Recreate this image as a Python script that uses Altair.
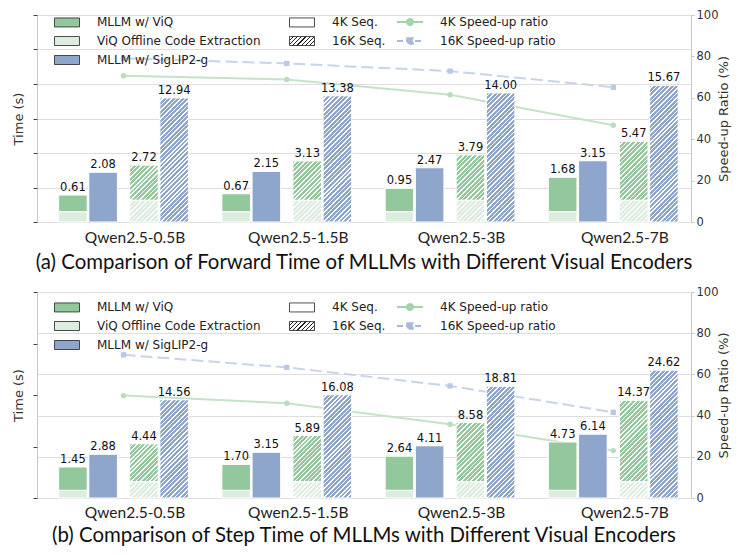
import json
import math
import altair as alt

# ---------------- data ----------------
models = ["Qwen2.5-0.5B", "Qwen2.5-1.5B", "Qwen2.5-3B", "Qwen2.5-7B"]

# (a) forward time (s)
fwd_viq_4k = [0.61, 0.67, 0.95, 1.68]
fwd_sig_4k = [2.08, 2.15, 2.47, 3.15]
fwd_viq_16k = [2.72, 3.13, 3.79, 5.47]
fwd_sig_16k = [12.94, 13.38, 14.00, 15.67]
fwd_code_4k = [0.09, 0.09, 0.09, 0.09]
fwd_code_16k = [0.40, 0.40, 0.40, 0.40]
fwd_speedup_4k = [70.7, 68.8, 61.5, 46.7]
fwd_speedup_16k = [79.0, 76.6, 72.9, 65.1]

# (b) step time (s)
step_viq_4k = [1.45, 1.70, 2.64, 4.73]
step_sig_4k = [2.88, 3.15, 4.11, 6.14]
step_viq_16k = [4.44, 5.89, 8.58, 14.37]
step_sig_16k = [14.56, 16.08, 18.81, 24.62]
step_code_4k = [0.09, 0.09, 0.09, 0.09]
step_code_16k = [0.40, 0.40, 0.40, 0.40]
step_speedup_4k = [49.7, 46.0, 35.8, 23.0]
step_speedup_16k = [69.5, 63.4, 54.4, 41.6]

time_ticks_a = [0, 1, 4, 9, 16, 25, 36]
time_ticks_b = [0, 4, 16, 36, 64]
ratio_ticks = [0, 20, 40, 60, 80, 100]

bar_legend_items = ["MLLM w/ ViQ", "ViQ Offline Code Extraction", "MLLM w/ SigLIP2-g", "4K Seq.", "16K Seq."]
ratio_legend_items = ["4K Speed-up ratio", "16K Speed-up ratio"]
captions = [
    "(a) Comparison of Forward Time of MLLMs with Different Visual Encoders",
    "(b) Comparison of Step Time of MLLMs with Different Visual Encoders",
]

# ---------------- styling ----------------
W = 654
X_DOMAIN = [-0.53, 3.476]
OFFSETS = [-0.31, -0.125, 0.125, 0.31]
BAR_W = 0.175
GREEN = "#93c79c"
LIGHT = "#dcede0"
BLUE = "#8ea6cb"
LINE_G = "#c4e3c9"
LINE_B = "#c7d4ea"
LEG_G = "#a3d3ab"
LEG_B = "#a7b9dc"
GRID = "#dedede"
FRAME = "#c8c8c8"

RECT_PATH = "M-2.5,-0.9H2.5V0.9H-2.5Z"
CIRCLE_LINE = "M-2.6,0H2.6M0.6,0A0.6,0.6,0,1,1,-0.6,0A0.6,0.6,0,1,1,0.6,0Z"
SQUARE_LINE = "M-2.6,0H2.6M-0.55,-0.55H0.55V0.55H-0.55Z"


def hatch(base, w, h, period=4.5, line=1.6, color="white"):
    """Diagonal '/' hatch as a striped linear gradient in bbox units."""
    w = max(w, 1.0)
    h = max(h, 1.0)
    L = w + h
    n = max(1, int(round(L / period)))
    a = L / (w * w + h * h)
    f = min(0.9, line / period)
    stops = []
    for k in range(n):
        s = k / n
        m = (k + 1 - f) / n
        e = (k + 1) / n
        stops += [
            {"offset": round(s, 5), "color": base},
            {"offset": round(m, 5), "color": base},
            {"offset": round(m, 5), "color": color},
            {"offset": round(e, 5), "color": color},
        ]
    return {"gradient": "linear", "x1": 0, "y1": 0, "x2": round(w * a, 5), "y2": round(h * a, 5), "stops": stops}


def panel(viq4, sig4, viq16, sig16, code4, code16, sp4, sp16, ymax, yticks,
          height, caption, grid_left, title_offset, label_pad, legend_y):
    px_x = W / (X_DOMAIN[1] - X_DOMAIN[0])
    bw_px = BAR_W * px_x

    def hpx(a, b):
        return (math.sqrt(b) - math.sqrt(a)) / math.sqrt(ymax) * height

    records, labels, r4, r16 = [], [], [], []
    for i in range(len(models)):
        segs = [
            (0, 0, code4[i], LIGHT, False),
            (0, code4[i], viq4[i], GREEN, False),
            (1, 0, sig4[i], BLUE, False),
            (2, 0, code16[i], LIGHT, True),
            (2, code16[i], viq16[i], GREEN, True),
            (3, 0, sig16[i], BLUE, True),
        ]
        for k, y0, y1, col, hatched in segs:
            c = i + OFFSETS[k]
            paint = hatch(col, bw_px, hpx(y0, y1)) if hatched else col
            records.append({"x0": c - BAR_W / 2, "x1": c + BAR_W / 2, "y0": y0, "y1": y1, "paint": paint})
        for k, v in enumerate([viq4[i], sig4[i], viq16[i], sig16[i]]):
            labels.append({"xc": i + OFFSETS[k], "v": v})
        r4.append({"xc": i, "r": sp4[i]})
        r16.append({"xc": i, "r": sp16[i]})

    def xs():
        return alt.Scale(domain=X_DOMAIN, nice=False, zero=False)

    def ys():
        return alt.Scale(type="sqrt", domain=[0, ymax], nice=False, zero=True)

    def rs():
        return alt.Scale(domain=[0, 100], nice=False, zero=True)

    def x_axis():
        return alt.Axis(
            values=[0, 1, 2, 3], labelExpr=f"{json.dumps(models)}[round(datum.value)]",
            title=None, ticks=False, tickSize=0, domain=False, grid=False,
            labelFont="Lato", labelFontSize=15.5, labelColor="#222", labelPadding=label_pad,
            labelOffset=11,
        )

    left_axis = alt.Axis(
        orient="left", values=yticks, labels=False, ticks=True, tickSize=4,
        tickColor="#444", domain=False, grid=grid_left, gridColor=GRID,
        title="Time (s)", titleFont="DejaVu Sans", titleFontSize=13,
        titleFontWeight="normal", titleColor="#333", titlePadding=7,
    )
    right_axis = alt.Axis(
        orient="right", values=ratio_ticks, ticks=True, tickSize=3, tickColor=FRAME,
        domain=False, grid=not grid_left, gridColor=GRID,
        labelFont="DejaVu Sans", labelFontSize=11.5, labelColor="#333", labelPadding=2,
        title="Speed-up Ratio (%)", titleFont="DejaVu Sans", titleFontSize=13,
        titleFontWeight="normal", titleColor="#333", titleAngle=270,
        titleBaseline="top", titlePadding=0,
    )

    l4 = alt.Chart(alt.Data(values=r4)).mark_line(
        color=LINE_G, strokeWidth=2,
        point=alt.OverlayMarkDef(filled=True, shape="circle", size=30, color="#b8dcbf"),
    ).encode(
        x=alt.X("xc:Q", scale=xs(), axis=x_axis()),
        y=alt.Y("r:Q", scale=rs(), axis=right_axis),
    )
    l16 = alt.Chart(alt.Data(values=r16)).mark_line(
        color=LINE_B, strokeWidth=2, strokeDash=[12, 5],
        point=alt.OverlayMarkDef(filled=True, shape="square", size=28, color="#b9c8e4"),
    ).encode(
        x=alt.X("xc:Q", scale=xs(), axis=x_axis()),
        y=alt.Y("r:Q", scale=rs(), axis=None),
    )
    bars = alt.Chart(alt.Data(values=records)).mark_bar(stroke="white", strokeWidth=1).encode(
        x=alt.X("x0:Q", scale=xs(), axis=x_axis()),
        x2="x1:Q",
        y=alt.Y("y0:Q", scale=ys(), axis=left_axis),
        y2="y1:Q",
        fill=alt.Fill("paint:N", scale=None, legend=None),
    )
    texts = alt.Chart(alt.Data(values=labels)).mark_text(
        font="DejaVu Sans", fontSize=11.5, baseline="bottom", dy=-2, color="#111"
    ).encode(
        x=alt.X("xc:Q", scale=xs(), axis=x_axis()),
        y=alt.Y("v:Q", scale=ys(), axis=None),
        text=alt.Text("v:Q", format=".2f"),
    )

    leg_hatch = hatch("white", 25, 9, period=4.2, line=1.1, color="#222")
    leg1 = alt.Chart(alt.Data(values=[{"item": t} for t in bar_legend_items])).transform_filter(
        "false"
    ).mark_point(filled=True, stroke="#222", strokeWidth=0.8, size=100, opacity=1).encode(
        fill=alt.Fill(
            "item:N",
            scale=alt.Scale(domain=bar_legend_items,
                            range=[GREEN, LIGHT, BLUE, "white", alt.ExprRef(expr=json.dumps(leg_hatch))]),
            legend=alt.Legend(
                title=None, orient="none", legendX=17, legendY=legend_y, columns=2,
                direction="vertical",
                symbolType=RECT_PATH, symbolSize=100, symbolStrokeColor="#222",
                symbolStrokeWidth=0.8, symbolOffset=7, labelOffset=24,
                labelFont="DejaVu Sans", labelFontSize=12, labelColor="#222",
                labelLimit=0, rowPadding=5, columnPadding=26, padding=0, symbolLimit=0,
            ),
        )
    )

    leg2_def = alt.Legend(
        title=None, orient="none", legendX=360, legendY=legend_y, direction="vertical",
        symbolSize=100, symbolStrokeWidth=2, symbolOffset=7, labelOffset=24,
        labelFont="DejaVu Sans", labelFontSize=12, labelColor="#222", labelLimit=0,
        rowPadding=5, padding=0,
    )
    leg2 = alt.Chart(alt.Data(values=[{"s": t} for t in ratio_legend_items])).transform_filter(
        "false"
    ).mark_point(filled=True, strokeWidth=2, size=100, opacity=1).encode(
        stroke=alt.Stroke("s:N", scale=alt.Scale(domain=ratio_legend_items, range=[LEG_G, LEG_B]), legend=leg2_def),
        fill=alt.Fill("s:N", scale=alt.Scale(domain=ratio_legend_items, range=[LEG_G, LEG_B]), legend=leg2_def),
        shape=alt.Shape("s:N", scale=alt.Scale(domain=ratio_legend_items, range=[CIRCLE_LINE, SQUARE_LINE]), legend=leg2_def),
        strokeDash=alt.StrokeDash("s:N", scale=alt.Scale(domain=ratio_legend_items, range=[[1, 0], [6, 3]]), legend=leg2_def),
    )

    return alt.layer(l4, l16, bars, texts, leg1, leg2).resolve_scale(
        y="independent", fill="independent", stroke="independent",
        shape="independent", strokeDash="independent",
    ).properties(
        width=W, height=height,
        title=alt.TitleParams(caption, orient="bottom", anchor="middle", frame="group",
                              font="Lato", fontSize=20.4, fontWeight="normal",
                              color="#111", offset=title_offset),
    )


pa = panel(fwd_viq_4k, fwd_sig_4k, fwd_viq_16k, fwd_sig_16k, fwd_code_4k, fwd_code_16k,
           fwd_speedup_4k, fwd_speedup_16k, 36, time_ticks_a, 207, captions[0], True, 7, 8, 1)
pb = panel(step_viq_4k, step_sig_4k, step_viq_16k, step_sig_16k, step_code_4k, step_code_16k,
           step_speedup_4k, step_speedup_16k, 64, time_ticks_b, 206, captions[1], False, 5, 7, 9)

chart = alt.vconcat(pa, pb, spacing=11).resolve_scale(
    fill="independent", stroke="independent", shape="independent", strokeDash="independent"
).properties(
    padding={"left": 4, "top": 0, "right": 0, "bottom": 0}
).configure(font="DejaVu Sans").configure_view(stroke=FRAME, strokeWidth=1)

chart.save("out.html", embed_options={"renderer": "svg", "actions": False})
